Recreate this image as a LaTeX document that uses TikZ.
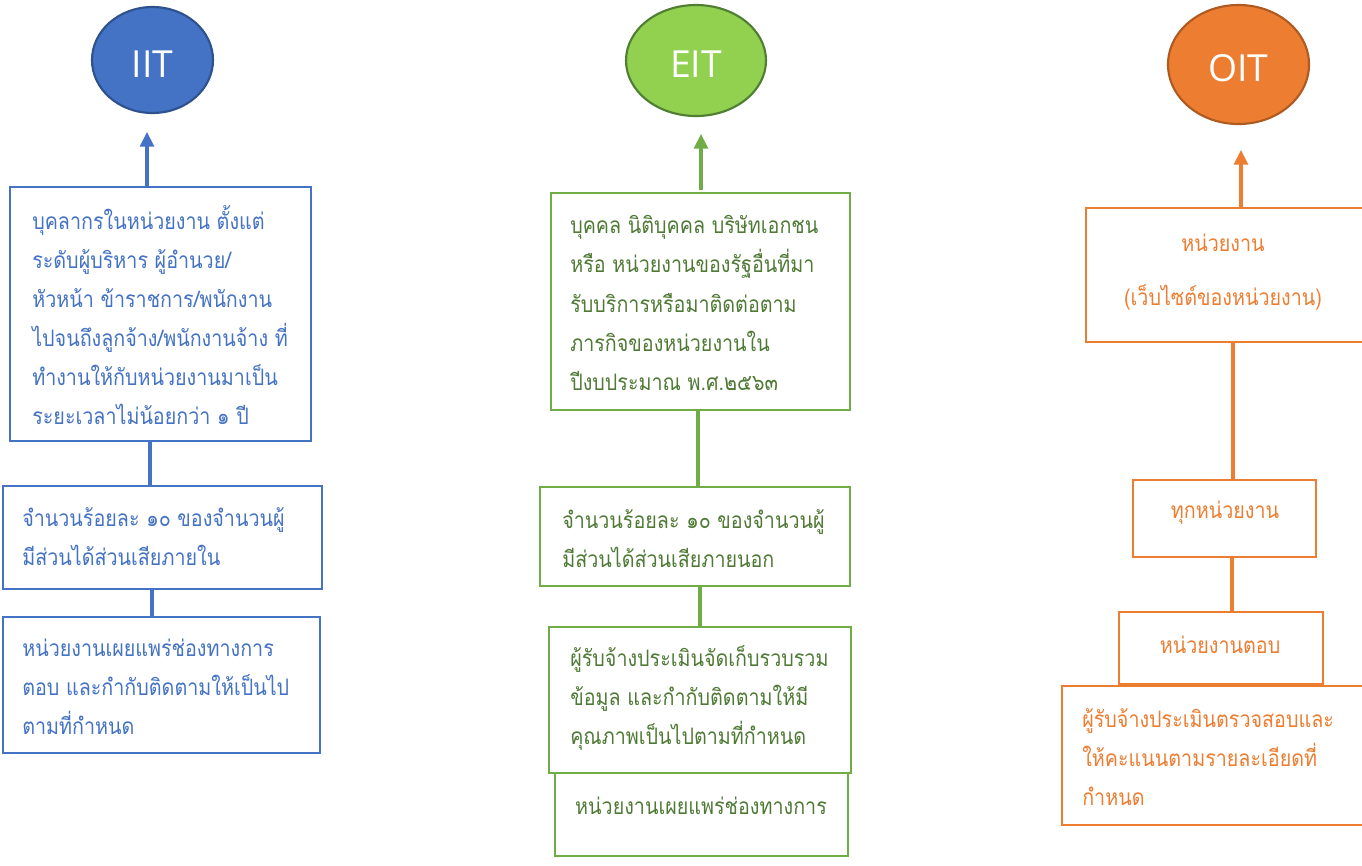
\documentclass[tikz,border=0pt]{standalone}
\usepackage{fontspec}
\newfontfamily\thaifont[Script=Thai,FakeStretch=0.87]{Loma}
\newfontfamily\latfont{Open Sans}
\usetikzlibrary{arrows.meta,shapes.geometric,fit}
\definecolor{cblue}{HTML}{4472C4}
\definecolor{cbluedk}{HTML}{2F528F}
\definecolor{cgreenfill}{HTML}{92D050}
\definecolor{cgreendk}{HTML}{507E32}
\definecolor{cgreen}{HTML}{70AD47}
\definecolor{cgreentxt}{HTML}{4F7A35}
\definecolor{corange}{HTML}{ED7D31}
\definecolor{corangedk}{HTML}{AE5A21}
\tikzset{
  bx/.style={draw, line width=1.9pt, inner sep=0pt, fill=none},
  oval/.style={ellipse, draw, line width=1.6pt, text=white, font=\latfont\fontsize{28}{34}\selectfont, inner sep=0pt, text height=26pt, text depth=0pt},
  txt/.style={inner sep=0pt, font=\thaifont\fontsize{17}{29.3}\selectfont},
  link/.style={line width=2.3pt},
  arr/.style={line width=2.3pt, -{Triangle[width=10.5pt,length=11pt]}},
}
\begin{document}
\begin{tikzpicture}[x=0.75pt,y=-0.75pt]
\useasboundingbox (0,0) rectangle (1362,865);
\clip (0,0) rectangle (1362,865);
\fill[white] (0,0) rectangle (1362,865);

% ---------- IIT ----------
\node[oval, fill=cblue, draw=cbluedk, minimum width=90.75pt, minimum height=79.5pt] (iit) at (152.5,60) {IIT};
\node[bx, draw=cblue, fit={(10,187) (311,441)}] (ib1) {};
\node[bx, draw=cblue, fit={(3,486) (322,589)}] (ib2) {};
\node[bx, draw=cblue, fit={(3,617) (320,753)}] (ib3) {};
\node[txt, text=cblue, align=left, anchor=west] (it1) at (32,315) {บุคลากรในหน่วยงาน ตั้งแต่\\ระดับผู้บริหาร ผู้อำนวย/\\หัวหน้า ข้าราชการ/พนักงาน\\ไปจนถึงลูกจ้าง/พนักงานจ้าง ที่\\ทำงานให้กับหน่วยงานมาเป็น\\ระยะเวลาไม่น้อยกว่า ๑ ปี};
\node[txt, text=cblue, align=left, anchor=west] (it2) at (22,537) {จำนวนร้อยละ ๑๐ ของจำนวนผู้\\มีส่วนได้ส่วนเสียภายใน};
\node[txt, text=cblue, align=left, anchor=west] (it3) at (22,687) {หน่วยงานเผยแพร่ช่องทางการ\\ตอบ และกำกับติดตามให้เป็นไป\\ตามที่กำหนด};
\coordinate (iittip) at (147,132);
\coordinate (iitxa) at (150,0);
\coordinate (iitxb) at (152,0);
\draw[arr, cblue] (ib1.north -| iittip) -- (iittip);
\draw[link, cblue] (ib1.south -| iitxa) -- (ib2.north -| iitxa);
\draw[link, cblue] (ib2.south -| iitxb) -- (ib3.north -| iitxb);

% ---------- EIT ----------
\node[oval, fill=cgreenfill, draw=cgreendk, minimum width=105pt, minimum height=83.25pt] (eit) at (696,60.5) {EIT};
\node[bx, draw=cgreen, fit={(551,193) (850,410)}] (eb1) {};
\node[bx, draw=cgreen, fit={(540,487) (850,586)}] (eb2) {};
\node[bx, draw=cgreen, fit={(549,627) (851,773)}] (eb3) {};
\node[bx, draw=cgreen, fit={(555,773) (848,856)}] (eb4) {};
\node[txt, text=cgreentxt, align=left, anchor=west] (et1) at (570,303) {บุคคล นิติบุคคล บริษัทเอกชน\\หรือ หน่วยงานของรัฐอื่นที่มา\\รับบริการหรือมาติดต่อตาม\\ภารกิจของหน่วยงานใน\\ปีงบประมาณ พ.ศ.๒๕๖๓};
\node[txt, text=cgreentxt, align=left, anchor=west] (et2) at (562,539) {จำนวนร้อยละ ๑๐ ของจำนวนผู้\\มีส่วนได้ส่วนเสียภายนอก};
\node[txt, text=cgreentxt, align=left, anchor=west] (et3) at (570,698) {ผู้รับจ้างประเมินจัดเก็บรวบรวม\\ข้อมูล และกำกับติดตามให้มี\\คุณภาพเป็นไปตามที่กำหนด};
\node[txt, text=cgreentxt] (et4) at (701,806) {หน่วยงานเผยแพร่ช่องทางการ};
\coordinate (eittip) at (701,134);
\coordinate (eitxa) at (698,0);
\coordinate (eitxb) at (700,0);
\draw[arr, cgreen] (701,190) coordinate (eitstart) -- (eittip);
\draw[link, cgreen] (eb1.south -| eitxa) -- (eb2.north -| eitxa);
\draw[link, cgreen] (eb2.south -| eitxb) -- (eb3.north -| eitxb);

% ---------- OIT ----------
\node[oval, fill=corange, draw=corangedk, minimum width=105.75pt, minimum height=89.25pt] (oit) at (1238.5,64.5) {OIT};
\node[bx, draw=corange, fit={(1086,208) (1380,342)}] (ob1) {};
\node[bx, draw=corange, fit={(1133,480) (1316,557)}] (ob2) {};
\node[bx, draw=corange, fit={(1119,612) (1323,684)}] (ob3) {};
\node[bx, draw=corange, fit={(1062,686) (1380,825)}] (ob4) {};
\node[txt, text=corange, align=center, font=\thaifont\fontsize{17}{41}\selectfont] (ot1) at (1223,272) {หน่วยงาน\\(เว็บไซต์ของหน่วยงาน)};
\node[txt, text=corange] (ot2) at (1225,513) {ทุกหน่วยงาน};
\node[txt, text=corange] (ot3) at (1220,645) {หน่วยงานตอบ};
\node[txt, text=corange, align=left, anchor=west] (ot4) at (1082,757) {ผู้รับจ้างประเมินตรวจสอบและ\\ให้คะแนนตามรายละเอียดที่\\กำหนด};
\coordinate (oittip) at (1241,150);
\coordinate (oitxa) at (1233,0);
\coordinate (oitxb) at (1232,0);
\draw[arr, corange] (ob1.north -| oittip) -- (oittip);
\draw[link, corange] (ob1.south -| oitxa) -- (ob2.north -| oitxa);
\draw[link, corange] (ob2.south -| oitxb) -- (ob3.north -| oitxb);
\end{tikzpicture}
\end{document}
